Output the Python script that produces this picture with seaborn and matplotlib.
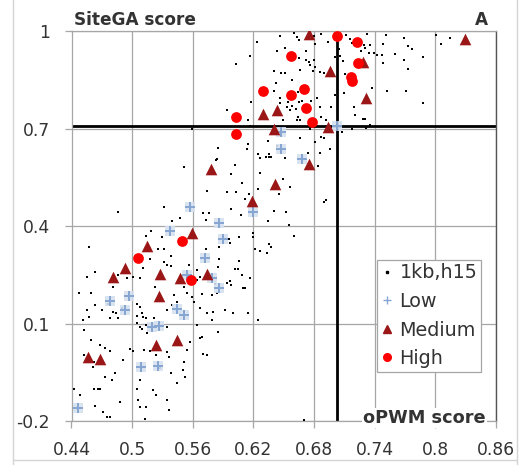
import matplotlib
matplotlib.use("Agg")
import matplotlib.pyplot as plt
from matplotlib.lines import Line2D
import numpy as np
import pandas as pd
import seaborn as sns

# ---- data -------------------------------------------------------------
bg_x = [
    0.646, 0.660, 0.663, 0.665, 0.680, 0.681, 0.687, 0.694, 0.712, 0.716, 0.718, 0.726, 0.729, 0.732, 0.734,
    0.624, 0.617, 0.603, 0.643, 0.651, 0.672, 0.665, 0.672, 0.680, 0.675, 0.676, 0.681, 0.679, 0.686, 0.690,
    0.640, 0.647, 0.651, 0.666, 0.705, 0.706, 0.701, 0.709, 0.711, 0.700,
    0.658, 0.642, 0.646, 0.640, 0.664, 0.654, 0.653, 0.656, 0.658, 0.662, 0.665, 0.668, 0.677, 0.683, 0.686,
    0.646, 0.664, 0.666, 0.649, 0.663, 0.618, 0.594, 0.615, 0.617, 0.676, 0.687, 0.692, 0.697, 0.701, 0.710,
    0.720, 0.721, 0.728, 0.731, 0.718, 0.708, 0.687, 0.690, 0.634, 0.643, 0.666, 0.681, 0.686, 0.674, 0.696,
    0.632, 0.625, 0.615, 0.614, 0.585, 0.584, 0.635,
    0.751, 0.769, 0.801, 0.815, 0.806, 0.748, 0.735, 0.730, 0.739, 0.742,
    0.747, 0.760, 0.773, 0.777, 0.769, 0.788, 0.748, 0.773, 0.737, 0.752,
    0.771, 0.788, 0.730, 0.735,
    0.559,
    0.551, 0.574, 0.532, 0.486, 0.570, 0.573, 0.539, 0.547, 0.519, 0.457,
    0.530, 0.514, 0.526, 0.532, 0.538, 0.518, 0.532, 0.534, 0.538, 0.564,
    0.556, 0.573, 0.463, 0.455, 0.486, 0.495, 0.508, 0.501, 0.511, 0.556,
    0.481, 0.551, 0.564, 0.567,
    0.583, 0.602, 0.625, 0.627, 0.635, 0.637, 0.651, 0.627, 0.598, 0.609,
    0.603, 0.594, 0.625, 0.645, 0.656, 0.649, 0.684, 0.692, 0.690, 0.612,
    0.616, 0.576, 0.598, 0.608, 0.640, 0.652, 0.634, 0.655, 0.620, 0.620,
    0.606, 0.596, 0.597, 0.586, 0.660, 0.622, 0.627, 0.635, 0.637, 0.633,
    0.586, 0.606, 0.602, 0.605, 0.585, 0.609, 0.612, 0.597, 0.594, 0.617,
    0.447, 0.459, 0.463, 0.455, 0.470, 0.476, 0.481, 0.484, 0.490, 0.478,
    0.486, 0.505, 0.508, 0.510, 0.505, 0.511, 0.514, 0.522, 0.505, 0.508,
    0.510, 0.514, 0.515, 0.534, 0.534, 0.539, 0.544, 0.541, 0.523, 0.554,
    0.559, 0.561, 0.567, 0.574, 0.564, 0.567, 0.557, 0.554, 0.551, 0.550,
    0.552, 0.544, 0.538, 0.528, 0.536, 0.534, 0.524, 0.518, 0.512, 0.501,
    0.491, 0.478, 0.473, 0.468, 0.461, 0.462, 0.459, 0.452, 0.451, 0.457,
    0.473, 0.483, 0.480, 0.468, 0.466, 0.462, 0.448, 0.442, 0.463, 0.471,
    0.478, 0.475, 0.488, 0.508, 0.514, 0.506, 0.505, 0.508, 0.521, 0.524,
    0.534, 0.536, 0.513, 0.570, 0.452, 0.498,
    0.582, 0.594, 0.598, 0.610, 0.584, 0.579, 0.569, 0.580, 0.579, 0.592,
    0.600, 0.615, 0.625, 0.585, 0.569, 0.574, 0.670,
]
bg_y = [
    0.986, 0.993, 0.983, 0.972, 0.986, 0.959, 0.991, 0.965, 0.988, 0.974, 0.964, 0.939, 0.958, 0.991, 0.931,
    0.967, 0.924, 0.900, 0.938, 0.948, 0.940, 0.918, 0.911, 0.911, 0.905, 0.896, 0.888, 0.878, 0.874, 0.870,
    0.878, 0.870, 0.872, 0.880, 0.946, 0.924, 0.921, 0.908, 0.867, 0.863,
    0.848, 0.839, 0.794, 0.815, 0.811, 0.783, 0.765, 0.757, 0.769, 0.759, 0.781, 0.785, 0.786, 0.793, 0.767,
    0.777, 0.734, 0.726, 0.726, 0.726, 0.783, 0.757, 0.726, 0.708, 0.700, 0.736, 0.725, 0.767, 0.804, 0.808,
    0.765, 0.742, 0.730, 0.703, 0.697, 0.688, 0.674, 0.670, 0.663, 0.646, 0.670, 0.660, 0.626, 0.626, 0.636,
    0.613, 0.621, 0.652, 0.636, 0.641, 0.605, 0.611,
    0.988, 0.979, 0.988, 0.980, 0.959, 0.960, 0.957, 0.947, 0.933, 0.925,
    0.927, 0.929, 0.954, 0.946, 0.912, 0.921, 0.903, 0.884, 0.824, 0.815,
    0.814, 0.777, 0.730, 0.710,
    0.700,
    0.583, 0.509, 0.459, 0.443, 0.441, 0.420, 0.415, 0.424, 0.385, 0.336,
    0.365, 0.369, 0.328, 0.329, 0.308, 0.300, 0.290, 0.280, 0.277, 0.265,
    0.280, 0.328, 0.259, 0.244, 0.249, 0.241, 0.241, 0.244, 0.272, 0.224,
    0.213, 0.213, 0.234, 0.244,
    0.603, 0.588, 0.621, 0.608, 0.621, 0.611, 0.608, 0.564, 0.560, 0.531,
    0.504, 0.506, 0.514, 0.500, 0.521, 0.545, 0.586, 0.480, 0.473, 0.482,
    0.500, 0.441, 0.451, 0.434, 0.447, 0.442, 0.414, 0.402, 0.379, 0.367,
    0.367, 0.359, 0.347, 0.336, 0.369, 0.328, 0.324, 0.345, 0.336, 0.318,
    0.300, 0.293, 0.268, 0.267, 0.273, 0.249, 0.210, 0.231, 0.224, 0.239,
    0.193, 0.195, 0.157, 0.142, 0.142, 0.160, 0.136, 0.131, 0.147, 0.116,
    0.118, 0.160, 0.152, 0.133, 0.123, 0.121, 0.116, 0.116, 0.103, 0.090,
    0.082, 0.095, 0.070, 0.090, 0.142, 0.157, 0.167, 0.188, 0.213, 0.193,
    0.183, 0.167, 0.147, 0.131, 0.095, 0.054, 0.044, 0.018, -0.018, -0.043,
    -0.064, -0.084, -0.053, -0.038, -0.004, 0.013, 0.003, 0.016, 0.018, 0.016,
    -0.012, 0.015, 0.024, 0.034, -0.033, -0.017, 0.049, 0.080, 0.111, 0.121,
    -0.064, -0.053, -0.074, -0.100, -0.103, -0.100, -0.120, -0.100, -0.154, -0.171,
    -0.187, -0.187, -0.141, -0.156, -0.156, -0.135, -0.100, -0.074, -0.105, -0.120,
    -0.135, -0.166, -0.195, 0.006, 0.003, 0.023,
    0.222, 0.226, 0.218, 0.208, 0.193, 0.188, 0.191, 0.136, 0.111, 0.141,
    0.131, 0.131, 0.111, 0.075, 0.059, 0.003, -0.197,
]

low_x = [0.647, 0.647, 0.668, 0.703, 0.620, 0.586, 0.590, 0.572, 0.579, 0.586, 0.557, 0.537,
         0.554, 0.497, 0.478, 0.493, 0.520, 0.527, 0.544, 0.551, 0.509, 0.526, 0.446]
low_y = [0.689, 0.637, 0.607, 0.709, 0.443, 0.408, 0.359, 0.302, 0.241, 0.210, 0.458, 0.385,
         0.249, 0.184, 0.169, 0.143, 0.090, 0.093, 0.144, 0.125, -0.034, -0.031, -0.160]

med_x = [0.675, 0.696, 0.728, 0.731, 0.829, 0.629, 0.643, 0.640, 0.694, 0.578, 0.675, 0.641, 0.619,
         0.574, 0.559, 0.515, 0.493, 0.481, 0.528, 0.547, 0.527, 0.524, 0.544, 0.456, 0.468]
med_y = [0.991, 0.877, 0.904, 0.795, 0.975, 0.746, 0.757, 0.700, 0.706, 0.575, 0.591, 0.530, 0.477,
         0.251, 0.378, 0.338, 0.271, 0.242, 0.252, 0.239, 0.186, 0.034, 0.049, -0.004, -0.010]

high_x = [0.703, 0.722, 0.657, 0.723, 0.717, 0.718, 0.629, 0.657, 0.670, 0.672, 0.603, 0.678,
          0.603, 0.549, 0.506, 0.558]
high_y = [0.986, 0.966, 0.924, 0.902, 0.858, 0.846, 0.815, 0.804, 0.821, 0.762, 0.736, 0.721,
          0.682, 0.355, 0.301, 0.234]

series_labels = ["1kb,h15", "Low", "Medium", "High"]
x_ticks = [0.44, 0.5, 0.56, 0.62, 0.68, 0.74, 0.8, 0.86]
x_tick_labels = ["0.44", "0.5", "0.56", "0.62", "0.68", "0.74", "0.8", "0.86"]
y_ticks = [-0.2, 0.1, 0.4, 0.7, 1.0]
y_tick_labels = ["-0.2", "0.1", "0.4", "0.7", "1"]
opwm_cut = 0.703
sitega_cut = 0.708

# ---- figure -----------------------------------------------------------
sns.set_theme(style="white")
plt.rcParams["font.family"] = ["DejaVu Sans"]

fig = plt.figure(figsize=(5.2, 4.65), dpi=100)
ax = fig.add_axes([0.1375, 0.0946, 0.8163, 0.8387])

grid_c = "#a6a6a6"
text_c = "#333333"
ax.set_xlim(0.44, 0.86)
ax.set_ylim(-0.2, 1.0)
ax.set_xticks(x_ticks)
ax.set_xticklabels(x_tick_labels)
ax.set_yticks(y_ticks)
ax.set_yticklabels(y_tick_labels)
ax.grid(True, color=grid_c, linewidth=0.9)
ax.set_axisbelow(True)
ax.tick_params(axis="both", which="both", length=5, width=0.9, color=grid_c,
               labelsize=12.3, labelcolor=text_c, direction="out",
               bottom=True, left=True)
ax.tick_params(axis="x", pad=9.5)
ax.tick_params(axis="y", pad=10.5)
for side in ["left", "top", "bottom"]:
    ax.spines[side].set_color(grid_c)
    ax.spines[side].set_linewidth(0.9)
ax.spines["right"].set_color("#555555")
ax.spines["right"].set_linewidth(1.0)

# threshold lines
ax.axvline(opwm_cut, color="black", linewidth=2.0, zorder=2)
ax.axhline(sitega_cut, color="black", linewidth=2.0, zorder=2)

# background sites
sns.scatterplot(x=bg_x, y=bg_y, ax=ax, marker="s", s=3.5, color="black",
                linewidth=0, zorder=3)
# low-affinity sites (with pale halo)
sns.scatterplot(x=low_x, y=low_y, ax=ax, marker="s", s=60, color="#d6e1f0",
                linewidth=0, alpha=0.9, zorder=3)
sns.scatterplot(x=low_x, y=low_y, ax=ax, marker="+", s=60, color="#85a5d2",
                linewidth=1.4, zorder=4)
# medium
sns.scatterplot(x=med_x, y=med_y, ax=ax, marker="^", s=70, color="#9b1616",
                linewidth=0, zorder=5)
# high
sns.scatterplot(x=high_x, y=high_y, ax=ax, marker="o", s=60, color="#ff0000",
                linewidth=0, zorder=6)

ax.set_xlabel("")
ax.set_ylabel("")

handles = [
    Line2D([], [], linestyle="none", marker="s", markersize=1.6, color="black"),
    Line2D([], [], linestyle="none", marker="+", markersize=5.5, markeredgewidth=1.0, color="#85a5d2"),
    Line2D([], [], linestyle="none", marker="^", markersize=5.5, color="#9b1616"),
    Line2D([], [], linestyle="none", marker="o", markersize=5.5, color="#ff0000"),
]
leg = ax.legend(handles, series_labels, loc="lower left", bbox_to_anchor=(0.7197, 0.1256),
                frameon=True, fancybox=False, framealpha=1, edgecolor="#a6a6a6",
                fontsize=13.8, handlelength=0.6, handletextpad=0.37, borderpad=0.2,
                labelspacing=0.5, borderaxespad=0)
leg.get_frame().set_linewidth(0.9)
for t in leg.get_texts():
    t.set_color(text_c)

# axis captions inside the plot frame
fig.text(74 / 520, 1 - 20 / 465, "SiteGA score", fontsize=12.2, fontweight="bold",
         color=text_c, ha="left", va="center")
fig.text(481 / 520, 1 - 20 / 465, "A", fontsize=12.2, fontweight="bold",
         color=text_c, ha="center", va="center")
fig.text(486 / 520, 1 - 418 / 465, "oPWM score", fontsize=12.8, fontweight="bold",
         color=text_c, ha="right", va="center",
         bbox=dict(facecolor="white", edgecolor="none", pad=0.8))

# light outer frame (left, right, bottom)
frame_c = "#d4d4d4"
for xs, ys in [((13 / 520, 13 / 520), (0.0, 1.0)),
               ((517 / 520, 517 / 520), (0.0, 1.0)),
               ((13 / 520, 517 / 520), (5 / 465, 5 / 465))]:
    fig.add_artist(Line2D(xs, ys, transform=fig.transFigure, color=frame_c, linewidth=1.0))

fig.savefig("out.png", dpi=100)
